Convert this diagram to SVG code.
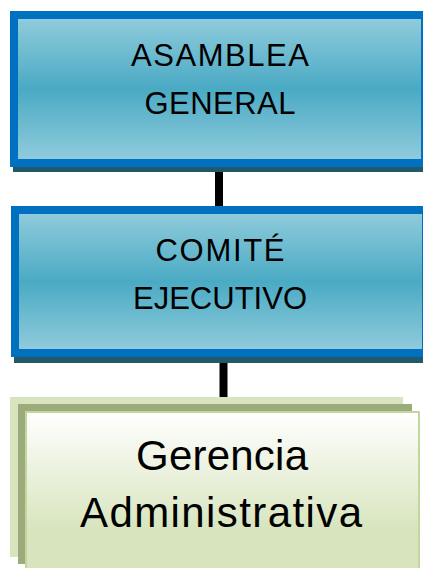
<svg xmlns="http://www.w3.org/2000/svg" width="423" height="568" viewBox="0 0 423 568">
<defs>
<linearGradient id="blue" x1="0" y1="0" x2="0" y2="1">
<stop offset="0" stop-color="#93cddd"/>
<stop offset="0.5" stop-color="#4aaac4"/>
<stop offset="1" stop-color="#93cddd"/>
</linearGradient>
<linearGradient id="green" x1="0" y1="0" x2="0" y2="1">
<stop offset="0" stop-color="#ffffff"/>
<stop offset="0.75" stop-color="#d7e4bd"/>
<stop offset="1" stop-color="#d7e4bd"/>
</linearGradient>
</defs>
<style>
.shadow{fill:#215968}
.bbox{fill:url(#blue);stroke:#0070c0;stroke-width:8}
.t{font-family:"Liberation Sans",Arial,sans-serif;fill:#000;text-anchor:middle}
.conn{stroke:#000;stroke-width:8}
</style>
<g id="connectors">
<line class="conn" x1="219" y1="170" x2="219" y2="208"/>
<line class="conn" x1="223.5" y1="360" x2="223.5" y2="400"/>
</g>
<g id="asamblea">
<rect class="shadow" x="13" y="14" width="415" height="158"/>
<rect class="bbox" x="14" y="15" width="411" height="148"/>
<text class="t" x="220" y="66" font-size="31" textLength="178" lengthAdjust="spacing">ASAMBLEA</text>
<text class="t" x="220" y="114" font-size="31" textLength="151" lengthAdjust="spacing">GENERAL</text>
</g>
<g id="comite">
<rect class="shadow" x="14" y="210" width="415" height="153"/>
<rect class="bbox" x="15" y="210" width="411" height="143"/>
<text class="t" x="220" y="261" font-size="31" textLength="129" lengthAdjust="spacing">COMITÉ</text>
<text class="t" x="220" y="309" font-size="31" textLength="174" lengthAdjust="spacing">EJECUTIVO</text>
</g>
<g id="gerencia">
<rect x="10" y="397" width="393" height="160" fill="#d7e4bd"/>
<rect x="18" y="404" width="394" height="160" fill="#9bab7c"/>
<rect x="26" y="412" width="393" height="160" fill="url(#green)" stroke="#c3d69b" stroke-width="2"/>
<text class="t" x="222" y="470" font-size="42" textLength="172" lengthAdjust="spacing">Gerencia</text>
<text class="t" x="221" y="527" font-size="42" textLength="282" lengthAdjust="spacing">Administrativa</text>
</g>
</svg>
